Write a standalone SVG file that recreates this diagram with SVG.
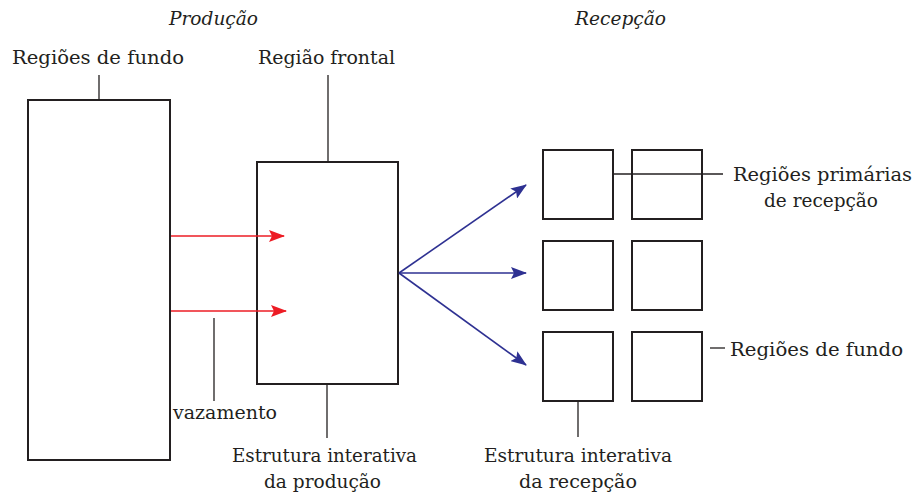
<svg xmlns="http://www.w3.org/2000/svg" width="920" height="492" viewBox="0 0 920 492">
<style>
text{font-family:"DejaVu Serif","Liberation Serif",serif;font-size:18px;fill:#231f20}
.it{font-style:italic}
.box{fill:#fff;stroke:#231f20;stroke-width:2}
.lead{stroke:#231f20;stroke-width:1.3;fill:none}
.red{stroke:#ed1c24;stroke-width:1.6;fill:none}
.blue{stroke:#2e3192;stroke-width:1.6;fill:none}
</style>
<defs>
<marker id="ar" markerWidth="16" markerHeight="12" refX="15" refY="6" orient="auto" markerUnits="userSpaceOnUse"><path d="M0,0 L16,6 L0,12 L3,6 Z" fill="#ed1c24"/></marker>
<marker id="ab" markerWidth="16" markerHeight="12" refX="15" refY="6" orient="auto" markerUnits="userSpaceOnUse"><path d="M0,0 L16,6 L0,12 L3,6 Z" fill="#2e3192"/></marker>
</defs>
<rect width="920" height="492" fill="#fff"/>
<text class="it" x="169" y="25" textLength="89" lengthAdjust="spacingAndGlyphs">Produção</text>
<text class="it" x="575" y="25" textLength="91" lengthAdjust="spacingAndGlyphs">Recepção</text>
<g id="fundo-producao">
<rect class="box" x="28" y="100" width="142" height="360"/>
<line class="lead" x1="99" y1="75" x2="99" y2="100"/>
<text x="12" y="64" textLength="172" lengthAdjust="spacingAndGlyphs">Regiões de fundo</text>
</g>
<g id="frontal">
<rect class="box" x="257" y="162" width="141" height="222"/>
<line class="lead" x1="328" y1="75" x2="328" y2="162"/>
<text x="258" y="64" textLength="137" lengthAdjust="spacingAndGlyphs">Região frontal</text>
<line class="lead" x1="327" y1="384" x2="327" y2="438"/>
<text x="232" y="462" textLength="185" lengthAdjust="spacingAndGlyphs">Estrutura interativa</text>
<text x="264" y="488" textLength="117" lengthAdjust="spacingAndGlyphs">da produção</text>
</g>
<g id="vazamento">
<line class="lead" x1="214" y1="318" x2="214" y2="401"/>
<text x="173" y="419" textLength="104" lengthAdjust="spacingAndGlyphs">vazamento</text>
</g>
<g id="recepcao">
<rect class="box" x="543" y="150" width="70" height="69"/>
<rect class="box" x="632" y="150" width="70" height="69"/>
<rect class="box" x="543" y="241" width="70" height="69"/>
<rect class="box" x="632" y="241" width="70" height="69"/>
<rect class="box" x="543" y="332" width="70" height="69"/>
<rect class="box" x="632" y="332" width="70" height="69"/>
<line class="lead" x1="614" y1="174" x2="723" y2="174"/>
<text x="733" y="181" textLength="179" lengthAdjust="spacingAndGlyphs">Regiões primárias</text>
<text x="764" y="207" textLength="114" lengthAdjust="spacingAndGlyphs">de recepção</text>
<line class="lead" x1="710" y1="348" x2="725" y2="348"/>
<text x="730" y="356" textLength="173" lengthAdjust="spacingAndGlyphs">Regiões de fundo</text>
<line class="lead" x1="578" y1="401" x2="578" y2="437"/>
<text x="484" y="462" textLength="188" lengthAdjust="spacingAndGlyphs">Estrutura interativa</text>
<text x="519" y="488" textLength="118" lengthAdjust="spacingAndGlyphs">da recepção</text>
</g>
<g id="connectors">
<line class="red" x1="171" y1="236" x2="284" y2="236" marker-end="url(#ar)"/>
<line class="red" x1="171" y1="311" x2="286" y2="311" marker-end="url(#ar)"/>
<line class="blue" x1="399" y1="273" x2="526" y2="185" marker-end="url(#ab)"/>
<line class="blue" x1="399" y1="273" x2="526" y2="273" marker-end="url(#ab)"/>
<line class="blue" x1="399" y1="273" x2="526" y2="365" marker-end="url(#ab)"/>
</g>
</svg>
